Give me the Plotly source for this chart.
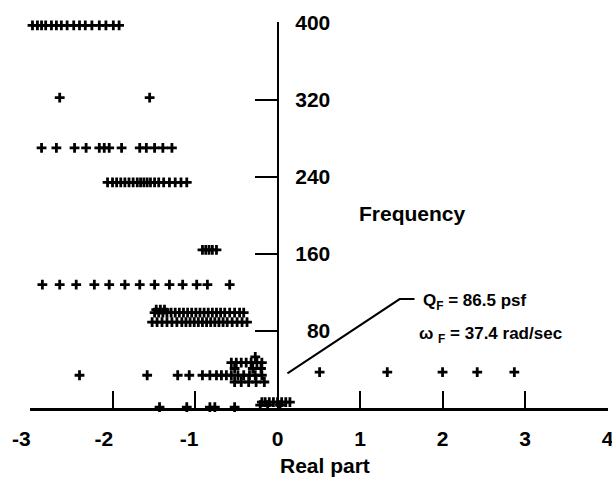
import plotly.graph_objects as go

# ---- data (real part, frequency) ----
re_f397 = [-2.97, -2.91, -2.86, -2.81, -2.74, -2.68, -2.62, -2.55, -2.47, -2.40,
           -2.33, -2.25, -2.16, -2.08, -1.99, -1.92]
re_f322 = [-2.64, -1.55]
re_f270 = [-2.86, -2.68, -2.46, -2.32, -2.16, -2.10, -2.04, -1.89, -1.67, -1.59,
           -1.49, -1.39, -1.28]
re_f234 = [-2.06, -2.00, -1.95, -1.90, -1.85, -1.80, -1.75, -1.70, -1.66, -1.62,
           -1.58, -1.54, -1.49, -1.44, -1.38, -1.31, -1.24, -1.17, -1.10]
re_f164 = [-0.91, -0.87, -0.83, -0.79, -0.74]
re_f128 = [-2.85, -2.64, -2.44, -2.22, -2.04, -1.85, -1.67, -1.49, -1.31, -1.15,
           -0.98, -0.85, -0.58]
re_f102 = [-1.47, -1.42, -1.37]
re_f99 = [-1.49, -1.44, -1.39, -1.34, -1.29, -1.24, -1.19, -1.14, -1.09, -1.04,
          -0.99, -0.94, -0.89, -0.84, -0.79, -0.74, -0.69, -0.64, -0.58, -0.52,
          -0.46, -0.41]
re_f89 = [-1.52, -1.46, -1.40, -1.34, -1.28, -1.22, -1.16, -1.11, -1.06, -1.01,
          -0.96, -0.91, -0.86, -0.81, -0.76, -0.71, -0.66, -0.61, -0.55, -0.49,
          -0.43, -0.37]
re_f53 = [-0.27]
re_f47 = [-0.56, -0.50, -0.44, -0.38, -0.32, -0.25, -0.19]
re_f41 = [-0.52, -0.30, -0.20]
re_f37 = [0.51, 1.33, 2.00, 2.42, 2.87]
re_f34 = [-2.40, -1.58, -1.21, -1.07, -0.91, -0.82, -0.74, -0.68, -0.62, -0.56,
          -0.48, -0.41, -0.34, -0.27, -0.19]
re_f27 = [-0.52, -0.44, -0.35, -0.26, -0.16]
re_f6 = [-0.19, -0.15, -0.10, -0.05, 0.00, 0.05, 0.10, 0.15]
re_f3 = [-0.21, -0.12, 0.03]
re_f1 = [-1.43, -1.10, -0.82, -0.76, -0.52]

rows = [
    (re_f397, 397), (re_f322, 322), (re_f270, 270), (re_f234, 234),
    (re_f164, 164), (re_f128, 128), (re_f102, 102), (re_f99, 99),
    (re_f89, 89), (re_f53, 53), (re_f47, 47), (re_f41, 41), (re_f37, 37.3),
    (re_f34, 34), (re_f27, 27), (re_f6, 6), (re_f3, 3), (re_f1, 1),
]

x_ticks = [-3, -2, -1, 0, 1, 2, 3, 4]
x_ticktext = ["-3\u00a0\u00a0\u00a0", "-2\u00a0\u00a0\u00a0", "-1\u00a0\u00a0", "0", "1", "2", "3", "4"]
y_ticks = [80, 160, 240, 320, 400]
y_ticktext = ["\u00a0\u00a080", "160", "240", "320", "400"]

leader_x = [0.12, 1.48, 1.66]
leader_y = [36, 113, 113]

FONT = "Liberation Sans, Arial, Helvetica, sans-serif"

xs, ys = [], []
for re_vals, f in rows:
    xs += re_vals
    ys += [f] * len(re_vals)

fig = go.Figure()
fig.add_trace(go.Scatter(
    x=xs, y=ys, mode="markers", cliponaxis=False,
    marker=dict(symbol="cross-thin", size=7, color="black",
                line=dict(width=2.8, color="black")),
    showlegend=False, hoverinfo="skip"))
fig.add_trace(go.Scatter(
    x=leader_x, y=leader_y, mode="lines", cliponaxis=False,
    line=dict(color="black", width=2), showlegend=False, hoverinfo="skip"))

fig.update_layout(
    width=612, height=481,
    margin=dict(l=30, r=4, t=22, b=73),
    paper_bgcolor="white", plot_bgcolor="white",
    font=dict(family=FONT, color="black"),
    xaxis=dict(range=[-3, 4.005], showgrid=False, zeroline=False,
               showline=True, linecolor="black", linewidth=2.5,
               ticks="inside", ticklen=17, tickwidth=2, tickcolor="black",
               tickvals=x_ticks, ticktext=x_ticktext,
               tickfont=dict(size=21, family=FONT, weight="bold"),
               ticklabelstandoff=10, ticklabeloverflow="allow",
               automargin=False),
    yaxis=dict(range=[0, 400.5], showgrid=False, zeroline=False,
               anchor="free", position=3 / 7.005, side="right",
               showline=True, linecolor="black", linewidth=2.5,
               ticks="inside", ticklen=22, tickwidth=2, tickcolor="black",
               tickvals=y_ticks, ticktext=y_ticktext,
               tickfont=dict(size=21, family=FONT, weight="bold"),
               ticklabelstandoff=12, automargin=False),
)

fig.add_annotation(x=1.64, y=202, xref="x", yref="y", text="<b>Frequency</b>",
                   showarrow=False, font=dict(size=21, family=FONT),
                   xanchor="center", yanchor="middle")
fig.add_annotation(x=0.51, y=-0.148, xref="paper", yref="paper", text="<b>Real part</b>",
                   showarrow=False, font=dict(size=21, family=FONT),
                   xanchor="center", yanchor="middle")
fig.add_annotation(x=1.74, y=110, xref="x", yref="y",
                   text="<b>Q<sub>F</sub> = 86.5 psf</b>",
                   showarrow=False, font=dict(size=17, family=FONT),
                   xanchor="left", yanchor="middle")
fig.add_annotation(x=1.69, y=76, xref="x", yref="y",
                   text="<b>\u03c9 <sub>F</sub> = 37.4 rad/sec</b>",
                   showarrow=False, font=dict(size=17, family=FONT),
                   xanchor="left", yanchor="middle")

fig.write_html("out.html",
               config={"displayModeBar": False, "staticPlot": True},
               post_script="document.body.style.margin='0px'; document.body.style.overflow='hidden';")
